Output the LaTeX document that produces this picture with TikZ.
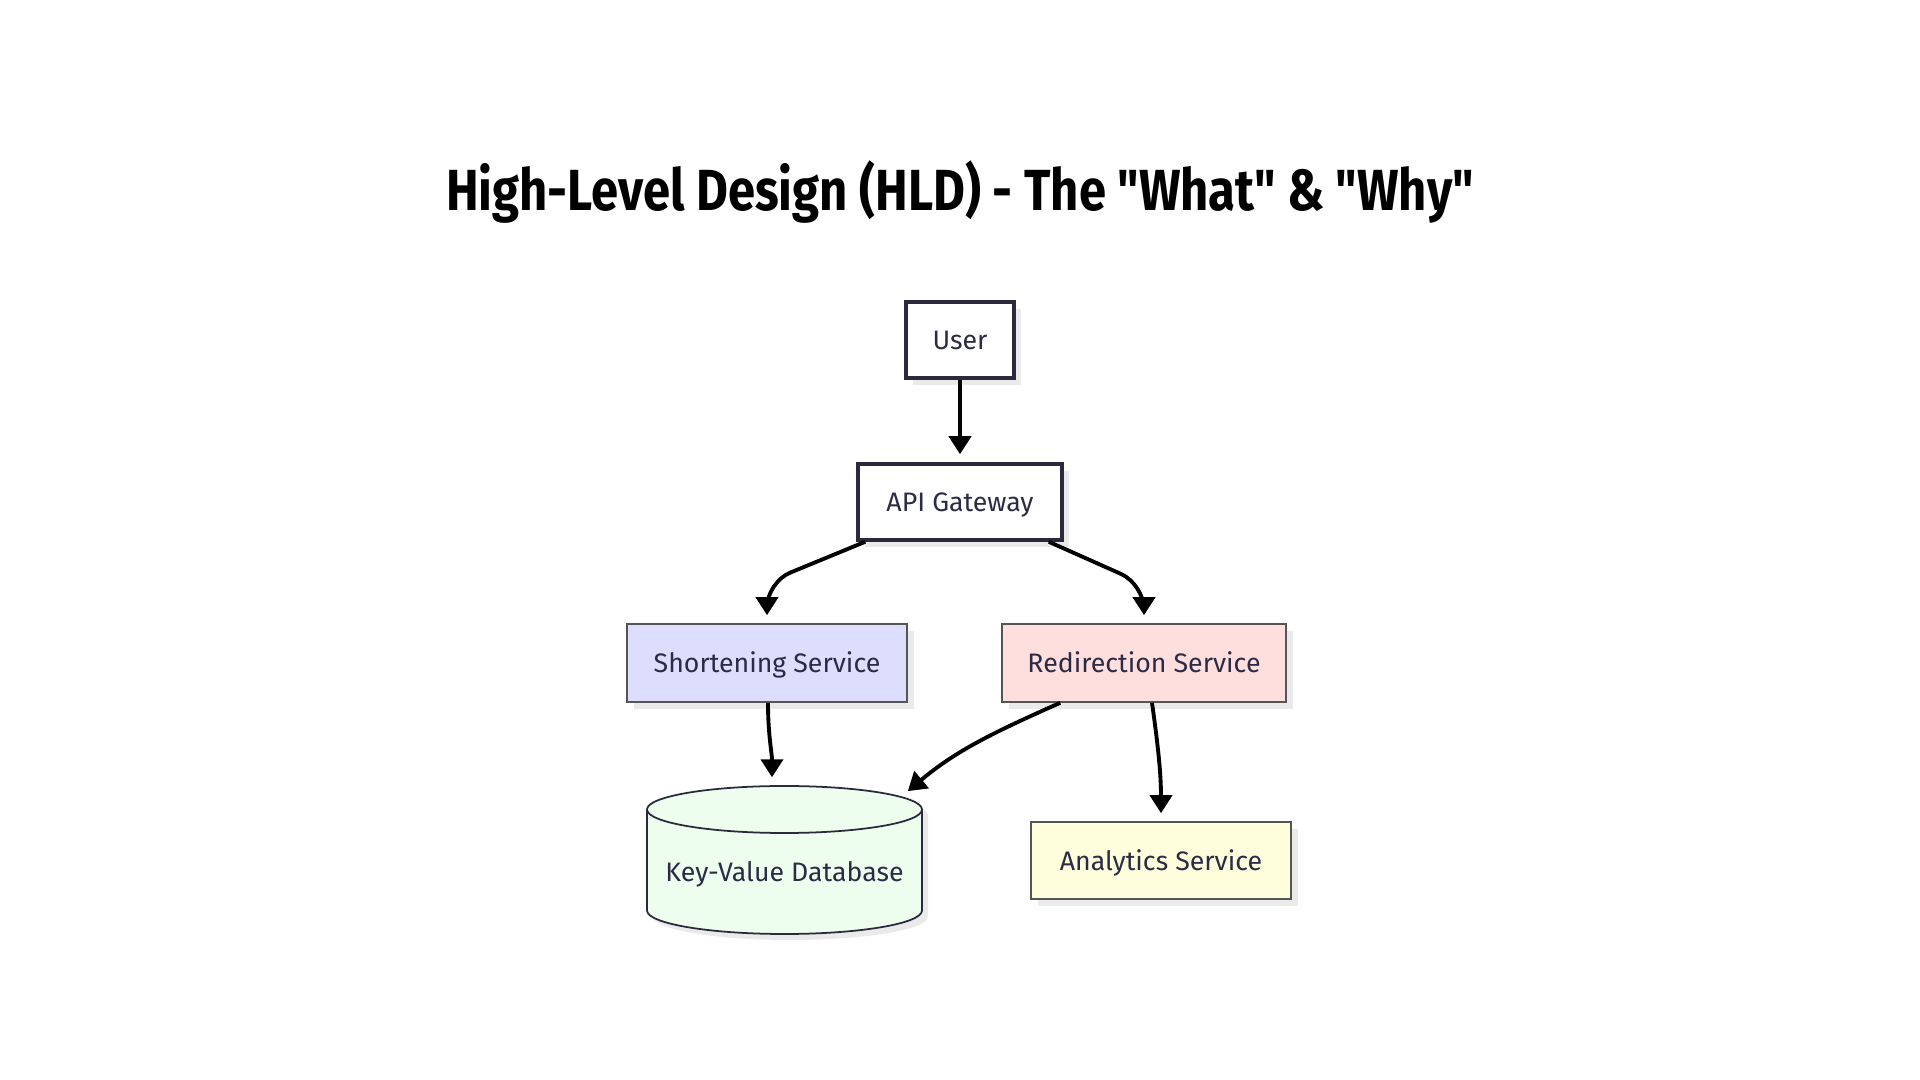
\documentclass[tikz,border=0pt]{standalone}
\usepackage{fontspec}
\setmainfont{Fira Sans}
\newfontfamily\titlefont[FakeStretch=0.845]{Fira Sans}
\usetikzlibrary{arrows.meta,shadows}
\definecolor{inkc}{HTML}{2B2B45}
\definecolor{edgec}{HTML}{2A2A3C}
\definecolor{thinc}{HTML}{555555}
\definecolor{shadowc}{HTML}{EAEAEA}
\definecolor{shortc}{HTML}{DDDDFD}
\definecolor{redirc}{HTML}{FFDEDE}
\definecolor{dbc}{HTML}{EEFEEE}
\definecolor{anac}{HTML}{FEFEDD}
\begin{document}
\begin{tikzpicture}[x=1mm,y=1mm,
  box/.style={rectangle,fill=white,draw=edgec,line width=1pt,minimum height=7.6mm,
    text=inkc,font=\fontsize{7.6}{9}\selectfont,text height=2.5mm,text depth=0.55mm,
    general shadow={fill=shadowc,shadow xshift=0.7mm,shadow yshift=-0.7mm}},
  svcbox/.style={box,draw=thinc,line width=0.45pt,minimum height=7.8mm},
  dbnode/.style={rectangle,minimum width=27.5mm,minimum height=14.8mm,text=inkc,
    font=\fontsize{7.6}{9}\selectfont,text height=4.9mm,text depth=0.6mm},
  arr/.style={-{Triangle[length=1.8mm,width=2.2mm]},line width=1.1pt,shorten >=0.8mm}]
\fill[white] (0,0) rectangle (192,108);
\useasboundingbox (0,0) rectangle (192,108);
\node[font=\titlefont\bfseries\fontsize{16.5}{20}\selectfont] (title) at (96,88.8) {High-Level Design (HLD) - The "What" \& "Why"};
\node[box,minimum width=10.8mm] (user) at (96,74) {User};
\node[box,minimum width=20.4mm] (api) at (96,57.8) {API Gateway};
\node[svcbox,fill=shortc,minimum width=28mm] (short) at (76.7,41.7) {Shortening Service};
\node[svcbox,fill=redirc,minimum width=28.4mm] (redir) at (114.4,41.7) {Redirection Service};
\node[svcbox,fill=anac,minimum width=26mm,minimum height=7.7mm] (ana) at (116.1,21.95) {Analytics Service};
\fill[shadowc] (65.3,26.45) -- (65.3,16.35) arc[start angle=180,end angle=360,x radius=13.75mm,y radius=2.35mm] -- (92.8,26.45) arc[start angle=0,end angle=180,x radius=13.75mm,y radius=2.35mm] -- cycle;
\filldraw[fill=dbc,draw=edgec,line width=0.5pt] (64.7,27.05) -- (64.7,16.95) arc[start angle=180,end angle=360,x radius=13.75mm,y radius=2.35mm] -- (92.2,27.05) arc[start angle=0,end angle=180,x radius=13.75mm,y radius=2.35mm] -- cycle;
\draw[draw=edgec,line width=0.5pt] (64.7,27.05) arc[start angle=180,end angle=360,x radius=13.75mm,y radius=2.35mm];
\node[dbnode] (db) at (78.45,22) {Key-Value Database};
\draw[arr] (user) -- (api);
\draw[arr,rounded corners=2.5mm] ([xshift=0.9mm]api.south west) -- ([yshift=4.1mm]short.north) -- (short.north);
\draw[arr,rounded corners=2.5mm] ([xshift=-1.5mm]api.south east) -- ([yshift=3.9mm]redir.north) -- (redir.north);
\draw[arr] ([xshift=0.1mm]short.south) to[out=-90,in=90] ([xshift=-1.25mm]db.north);
\draw[arr] ([xshift=5.9mm]redir.south west) to[out=-156,in=40] ([xshift=-2.1mm,yshift=-1.1mm]db.north east);
\draw[arr] ([xshift=0.8mm]redir.south) to[out=-82,in=90] (ana.north);
\end{tikzpicture}
\end{document}
